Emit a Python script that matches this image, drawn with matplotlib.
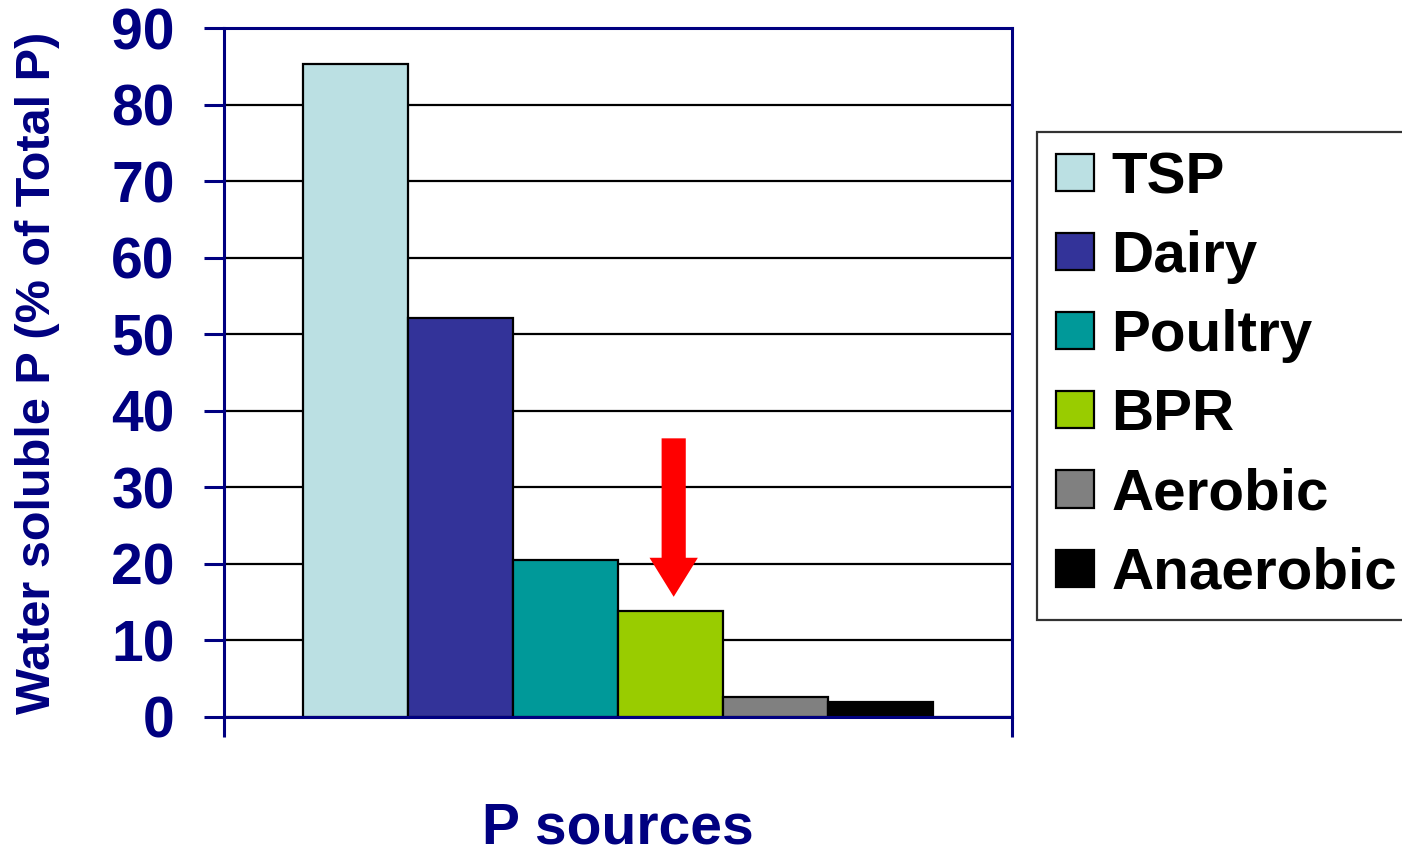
import matplotlib
matplotlib.use("Agg")
import matplotlib.pyplot as plt
from matplotlib.patches import FancyArrow

# Water-soluble P as share of total P for each P source
sources = ["TSP", "Dairy", "Poultry", "BPR", "Aerobic", "Anaerobic"]
water_soluble_pct = [85.3, 52.1, 20.5, 13.9, 2.6, 2.0]
bar_colors = ["#BBE0E3", "#333399", "#009999", "#99CC00", "#808080", "#000000"]
y_ticks = [0, 10, 20, 30, 40, 50, 60, 70, 80, 90]

NAVY = "#000080"
FONT = "Liberation Sans"

fig = plt.figure(figsize=(14.02, 8.51), dpi=100)
ax = fig.add_axes([224 / 1402, 1 - 717 / 851, 788 / 1402, 689 / 851])

for i, (name, val, col) in enumerate(zip(sources, water_soluble_pct, bar_colors)):
    ax.bar(i, val, width=1.0, color=col, edgecolor="black", linewidth=1.6,
           label=name, zorder=2)

ax.set_xlim(-1.25, 6.25)
ax.set_ylim(0, 90)

# horizontal gridlines
ax.set_yticks(y_ticks)
ax.grid(axis="y", color="black", linewidth=1.6, zorder=0)
ax.set_axisbelow(True)

for side in ["left", "right", "top", "bottom"]:
    ax.spines[side].set_color(NAVY)
    ax.spines[side].set_linewidth(2.2)
    ax.spines[side].set_zorder(3)

ax.tick_params(axis="y", direction="out", length=14.4, width=2.2, color=NAVY,
               pad=21, labelsize=41, labelcolor=NAVY)
for lab in ax.get_yticklabels():
    lab.set_fontfamily(FONT)
    lab.set_fontweight("bold")

# category axis: only the end tick marks, hanging below
ax.set_xticks([-1.25, 6.25])
ax.set_xticklabels(["", ""])
ax.tick_params(axis="x", direction="out", length=14.4, width=2.2, color=NAVY)

ax.set_ylabel("Water soluble P (% of Total P)", fontsize=35, fontweight="bold",
              color=NAVY, fontfamily=FONT)
ax.yaxis.set_label_coords(-0.208, 0.5)

ax.set_xlabel("P sources", fontsize=41, fontweight="bold", color=NAVY,
              fontfamily=FONT)
ax.xaxis.label.set_va("baseline")
ax.xaxis.set_label_coords(0.5, -127 / 689)

# red arrow pointing at the BPR bar
bpr = sources.index("BPR")
tip = water_soluble_pct[bpr] + 1.8
top = 36.4
ax.add_patch(FancyArrow(bpr + 0.03, top, 0, tip - top, width=0.23,
                        head_width=0.46, head_length=5.1,
                        length_includes_head=True, color="#FF0000",
                        linewidth=0, zorder=4))

leg = ax.legend(loc="upper left", bbox_to_anchor=(1037 / 1402, 1 - 132 / 851),
                bbox_transform=fig.transFigure, borderaxespad=0,
                prop={"family": FONT, "weight": "bold", "size": 42},
                handlelength=0.64, handleheight=0.6, handletextpad=0.3,
                labelspacing=0.43, borderpad=0.33, fancybox=False,
                frameon=True)
leg.get_frame().set_edgecolor("black")
leg.get_frame().set_linewidth(1.6)

fig.savefig("out.png", dpi=100)
